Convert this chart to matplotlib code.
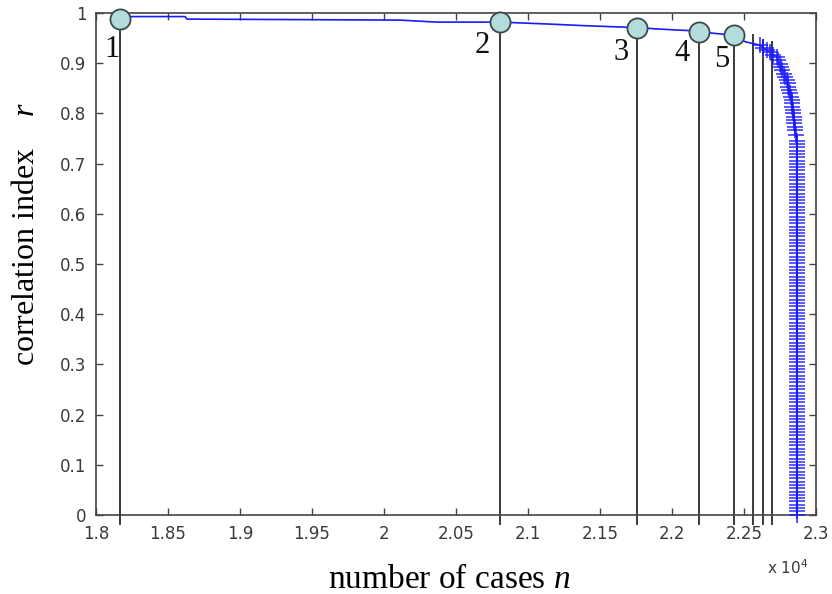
import numpy as np
import matplotlib
matplotlib.use('Agg')
import matplotlib.pyplot as plt
from matplotlib.ticker import FuncFormatter

# step part of the r(n) curve (no markers)
step_n = [18167, 18618, 18632, 20111, 20368, 20806, 21153, 21382, 21757,
          21917, 22188, 22278, 22431, 22507, 22611]
step_r = [0.993, 0.993, 0.988, 0.986, 0.982, 0.982, 0.978, 0.975, 0.971,
          0.968, 0.964, 0.960, 0.956, 0.943, 0.936]

# tail of the curve, drawn with '+' markers
bend_n = [22611, 22634, 22657, 22680, 22703, 22727,
          22737, 22747, 22757, 22767, 22777, 22786, 22796,
          22802, 22808, 22814, 22819, 22825, 22831,
          22834, 22836, 22839, 22841, 22844, 22847, 22849, 22852, 22854,
          22860]
bend_r = [0.936, 0.931, 0.926, 0.922, 0.917, 0.913,
          0.906, 0.899, 0.893, 0.886, 0.879, 0.873, 0.866,
          0.860, 0.853, 0.847, 0.840, 0.833, 0.827,
          0.820, 0.813, 0.807, 0.800, 0.793, 0.787, 0.780, 0.773, 0.767,
          0.757]
column_n = 22866
column_r = [0.746, 0.739, 0.733, 0.726, 0.720, 0.713, 0.706, 0.700, 0.693, 0.687,
            0.680, 0.673, 0.667, 0.660, 0.654, 0.647, 0.640, 0.634, 0.627, 0.621,
            0.614, 0.607, 0.601, 0.594, 0.588, 0.581, 0.574, 0.568, 0.561, 0.555,
            0.548, 0.541, 0.535, 0.528, 0.522, 0.515, 0.508, 0.502, 0.495, 0.489,
            0.482, 0.475, 0.469, 0.462, 0.456, 0.449, 0.442, 0.436, 0.429, 0.423,
            0.416, 0.409, 0.403, 0.396, 0.390, 0.383, 0.376, 0.370, 0.363, 0.357,
            0.350, 0.343, 0.337, 0.330, 0.324, 0.317, 0.310, 0.304, 0.297, 0.291,
            0.284, 0.277, 0.271, 0.264, 0.258, 0.251, 0.244, 0.238, 0.231, 0.225,
            0.218, 0.211, 0.205, 0.198, 0.192, 0.185, 0.178, 0.172, 0.165, 0.159,
            0.152, 0.145, 0.139, 0.132, 0.126, 0.119, 0.112, 0.106, 0.099, 0.093,
            0.086, 0.079, 0.073, 0.066, 0.060, 0.053, 0.046, 0.040, 0.033, 0.027,
            0.020, 0.013, 0.007, 0.000]

# numbered points
point_labels = ['1', '2', '3', '4', '5']
point_n = [18167, 20806, 21757, 22188, 22431]
point_r = [0.988, 0.983, 0.970, 0.963, 0.956]

# extra unlabeled cut lines
extra_n = [22560, 22634, 22692]
extra_r = [0.956, 0.946, 0.943]

xticks = [18000, 18500, 19000, 19500, 20000, 20500, 21000, 21500, 22000, 22500, 23000]
yticks = [0, 0.1, 0.2, 0.3, 0.4, 0.5, 0.6, 0.7, 0.8, 0.9, 1]

plt.rcParams['mathtext.fontset'] = 'custom'
plt.rcParams['mathtext.it'] = 'Liberation Serif:italic'
plt.rcParams['mathtext.rm'] = 'Liberation Serif'

fig = plt.figure(figsize=(8.32, 5.94), dpi=100)
ax = fig.add_axes([0.1154, 0.133, 0.8654, 0.845])

line_col = '#3a3a3a'
blue = '#1a1aff'

# vertical cut lines
for n, r in zip(point_n + extra_n, point_r + extra_r):
    ax.plot([n, n], [-0.018, r], color=line_col, lw=1.4, clip_on=False, zorder=2)

ax.plot(step_n, step_r, color=blue, lw=1.2, zorder=3)
tail_n = bend_n + [column_n] * len(column_r)
tail_r = bend_r + column_r
ax.plot(tail_n, tail_r, color=blue, lw=1.2, marker='+', markersize=11,
        markeredgewidth=1.2, alpha=0.85, zorder=3, clip_on=False)

ax.plot(point_n, point_r, 'o', markersize=14.5, markerfacecolor='#b4dcdc',
        markeredgecolor='#3a4a4a', markeredgewidth=1.3, zorder=5, clip_on=False)

label_off = [(-8, -30), (-18, -24), (-16, -24), (-17, -22), (-12, -24)]
for lab, n, r, off in zip(point_labels, point_n, point_r, label_off):
    ax.annotate(lab, (n, r), xytext=off, textcoords='offset pixels',
                ha='center', va='center', fontsize=22, family='Liberation Serif',
                color='#111111', zorder=6)

ax.set_xlim(18000, 23000)
ax.set_ylim(0, 1)
ax.set_xticks(xticks)
ax.set_yticks(yticks)
ax.xaxis.set_major_formatter(FuncFormatter(lambda v, p: '%g' % (v / 1e4)))
ax.yaxis.set_major_formatter(FuncFormatter(lambda v, p: '%g' % v))
ax.tick_params(direction='in', top=True, right=True, length=5, width=1,
               color='#444444', labelsize=12, labelcolor='#3a3a3a')
ax.tick_params(axis='x', pad=7)
ax.tick_params(axis='y', pad=7)
for lab in ax.get_xticklabels() + ax.get_yticklabels():
    lab.set_family('DejaVu Sans')
for s in ax.spines.values():
    s.set_color('#444444')
    s.set_linewidth(1.2)

ax.text(0.932, -0.104, r'x 10$^{4}$', transform=ax.transAxes, fontsize=11,
        family='DejaVu Sans', color='#3a3a3a', ha='left', va='center',
        math_fontfamily='dejavusans')

ax.set_xlabel(r'number of cases $n$', fontsize=24, family='Liberation Serif')
ax.xaxis.label.set_verticalalignment('baseline')
ax.xaxis.set_label_coords(0.49, -0.145)
ax.set_ylabel(r'correlation index    $r$', fontsize=23, family='Liberation Serif')
ax.yaxis.set_label_coords(-0.076, 0.56)

fig.savefig('out.png', dpi=100)
